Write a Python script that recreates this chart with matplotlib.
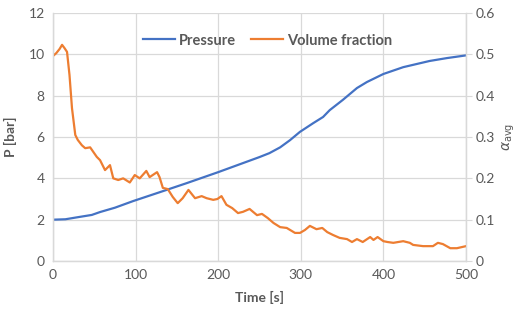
import matplotlib.pyplot as plt

plt.rcParams['font.family'] = ['Lato', 'DejaVu Sans']

# pressure [bar] vs time [s]
t_p = [0, 15, 30, 47, 57, 75, 97, 130, 162, 200, 250, 262, 275, 287, 299,
       315, 327, 335, 351, 368, 380, 400, 424, 456, 477, 500]
pressure = [2.0, 2.02, 2.12, 2.23, 2.37, 2.58, 2.9, 3.34, 3.77, 4.3, 5.03,
            5.22, 5.5, 5.85, 6.25, 6.67, 6.97, 7.3, 7.8, 8.37, 8.66, 9.05,
            9.38, 9.68, 9.82, 9.95]

# average volume fraction vs time [s]
t_a = [0, 4, 8, 11, 14, 17, 20, 23, 27, 30, 35, 39, 45, 53, 57, 63, 69, 73,
       79, 85, 93, 99, 105, 113, 117, 126, 129, 133, 139, 145, 151, 157, 164,
       172, 180, 186, 194, 199, 204, 210, 217, 224, 230, 238, 247, 253, 260,
       267, 275, 283, 293, 299, 305, 311, 319, 326, 332, 339, 347, 356, 362,
       368, 375, 384, 388, 393, 400, 405, 412, 424, 432, 436, 448, 460, 466,
       472, 481, 489, 500]
alpha = [0.496, 0.503, 0.513, 0.523, 0.515, 0.506, 0.45, 0.37, 0.305, 0.293,
         0.28, 0.273, 0.275, 0.252, 0.244, 0.22, 0.232, 0.2, 0.196, 0.2, 0.19,
         0.208, 0.2, 0.218, 0.203, 0.215, 0.203, 0.177, 0.174, 0.155, 0.14,
         0.152, 0.172, 0.152, 0.157, 0.152, 0.148, 0.15, 0.157, 0.136, 0.128,
         0.116, 0.119, 0.126, 0.111, 0.114, 0.104, 0.092, 0.082, 0.08, 0.068,
         0.068, 0.075, 0.085, 0.077, 0.08, 0.07, 0.063, 0.056, 0.053, 0.046,
         0.053, 0.046, 0.058, 0.051, 0.058, 0.048, 0.046, 0.044, 0.048, 0.044,
         0.039, 0.036, 0.036, 0.044, 0.041, 0.031, 0.031, 0.036]

blue = '#4472C4'
orange = '#ED7D31'
grey = '#595959'
grid = '#D9D9D9'

fig = plt.figure(figsize=(5.23, 3.10), dpi=100)
ax = fig.add_axes([0.1013, 0.158, 0.7897, 0.8])
ax2 = ax.twinx()

l1, = ax.plot(t_p, pressure, color=blue, lw=1.6, label='Pressure')
l2, = ax2.plot(t_a, alpha, color=orange, lw=1.6, label='Volume fraction')

ax.set_xlim(0, 500)
ax.set_ylim(0, 12)
ax2.set_ylim(0, 0.6)
ax.set_xticks(range(0, 501, 100))
ax.set_yticks(range(0, 13, 2))
ax2.set_yticks([0, 0.1, 0.2, 0.3, 0.4, 0.5, 0.6])
ax2.set_yticklabels(['0', '0.1', '0.2', '0.3', '0.4', '0.5', '0.6'])

ax.grid(True, color=grid, lw=0.9)
ax.set_axisbelow(True)
for a in (ax, ax2):
    a.spines['top'].set_visible(False)
    for s in ('left', 'right', 'bottom'):
        a.spines[s].set_color(grid)
        a.spines[s].set_linewidth(0.9)
ax.tick_params(axis='both', length=0, labelsize=10, labelcolor=grey, pad=6)
ax2.tick_params(axis='y', length=4, color=grid, labelsize=10,
                labelcolor=grey, pad=3)

ax.set_xlabel('Time [s]', fontsize=10, fontweight='bold', color=grey,
              labelpad=7)
ax.set_ylabel('P [bar]', fontsize=10, fontweight='bold', color=grey,
              labelpad=8)
ax2.set_ylabel(r'$\alpha_{\mathrm{avg}}$', fontsize=10, color=grey,
               rotation=90, labelpad=4)

leg = ax.legend(handles=[l1, l2], loc='upper center',
                bbox_to_anchor=(0.52, 0.97), ncol=2, frameon=False,
                fontsize=10.5, handlelength=2.2, columnspacing=1.0,
                handletextpad=0.3)
for txt in leg.get_texts():
    txt.set_color(grey)
    txt.set_fontweight('bold')

fig.savefig('out.png', dpi=100)
